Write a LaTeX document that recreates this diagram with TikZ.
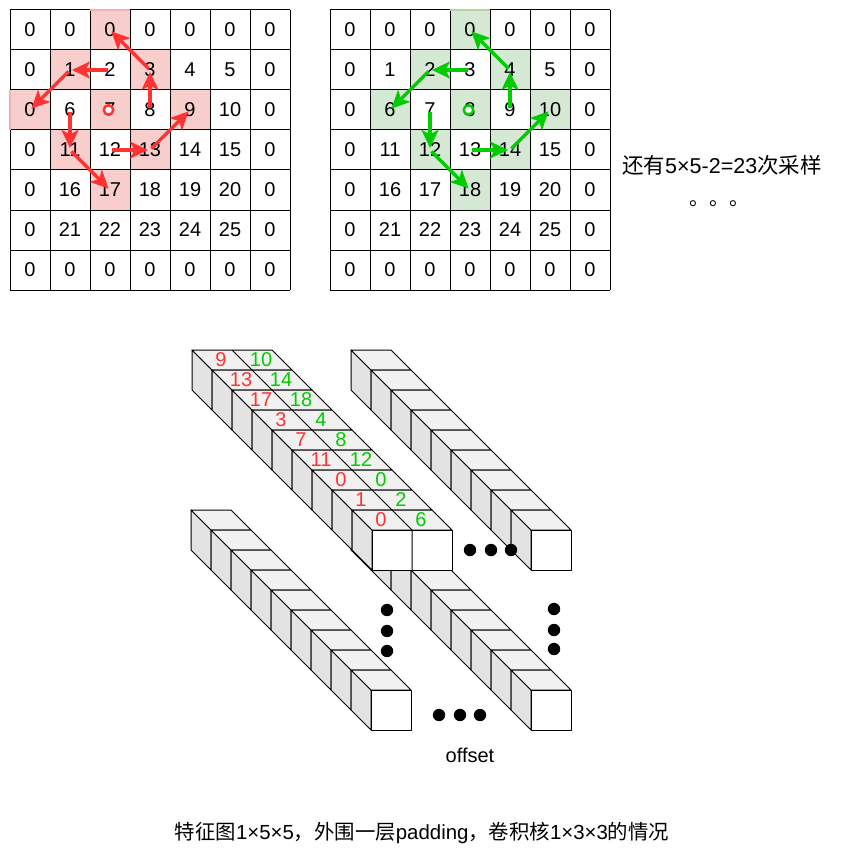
\documentclass[tikz,border=0pt]{standalone}
\usepackage{fontspec}
\setmainfont{Liberation Sans}
\newfontfamily\cjk{Noto Sans CJK SC}
\usetikzlibrary{arrows.meta}
\definecolor{redA}{HTML}{FF3333}
\definecolor{greenA}{HTML}{00CC00}
\definecolor{pinkF}{HTML}{F8CECC}
\definecolor{pinkE}{HTML}{EDB3B1}
\definecolor{greenF}{HTML}{D5E8D4}
\definecolor{greenE}{HTML}{B3D3A6}
\definecolor{topF}{HTML}{F1F1F1}
\definecolor{sideF}{HTML}{E3E3E3}
\begin{document}
\begin{tikzpicture}[x=1pt,y=-1pt,line join=round,
  txt/.style={font=\fontsize{20}{24}\selectfont, inner sep=0pt},
  gridline/.style={draw=black, line width=1pt},
  redarrow/.style={draw=redA, line width=3.4pt, shorten <=2pt, shorten >=2pt, -{Stealth[length=18pt,width=17pt,inset=4.5pt]}},
  greenarrow/.style={draw=greenA, line width=3.4pt, shorten <=2pt, shorten >=2pt, -{Stealth[length=18pt,width=17pt,inset=4.5pt]}},
  ring/.style={circle, line width=2.5pt, fill=white, minimum size=9.5pt, inner sep=0pt},
  sideface/.style={fill=sideF, draw=black, line width=1pt},
  topface/.style={fill=topF, draw=black, line width=1pt},
  frontface/.style={fill=white, draw=black, line width=1pt},
  bigdot/.style={fill=black}]
\useasboundingbox (0,0) rectangle (848,861);
\fill[white] (0,0) rectangle (848,861);

% ---------- highlighted cells ----------
\foreach \r/\c in {0/2,1/1,1/3,2/0,2/2,2/4,3/1,3/3,4/2}{
  \fill[pinkF] (10+40*\c,10+40*\r) rectangle ++(40,40);
  \fill[greenF] (370+40*\c,10+40*\r) rectangle ++(40,40);
}
% ---------- grid lines ----------
\foreach \ox in {10,330}{
  \foreach \i in {0,...,7}{
    \draw[gridline] (\ox+40*\i,10) -- (\ox+40*\i,290);
    \draw[gridline] (\ox,10+40*\i) -- (\ox+280,10+40*\i);
  }
}
\draw[pinkE, line width=1.2pt] (90,10) -- (130,10);
\draw[pinkE, line width=1.2pt] (10,90) -- (10,130);
\draw[greenE, line width=1.2pt] (450,10) -- (490,10);

% ---------- numbers ----------
\foreach \g/\ox in {a/10,b/330}{
  \foreach \r in {0,...,6}{
    \foreach \c in {0,...,6}{
      \pgfmathtruncatemacro\v{(\r>0)*(\r<6)*(\c>0)*(\c<6)*(5*(\r-1)+\c)}
      \node[txt] (\g-\r-\c) at (\ox+20+40*\c,30+40*\r) {\v};
    }
  }
}

% ---------- arrows grid a ----------
\draw[redarrow] (a-1-2.center) -- (a-1-1.center);
\draw[redarrow] (a-1-1.center) -- (a-2-0.center);
\draw[redarrow] (a-1-3.center) -- (a-0-2.center);
\draw[redarrow] (a-2-3.center) -- (a-1-3.center);
\draw[redarrow] (a-2-1.center) -- (a-3-1.center);
\draw[redarrow] (a-3-1.center) -- (a-4-2.center);
\draw[redarrow] (a-3-2.center) -- (a-3-3.center);
\draw[redarrow] (a-3-3.center) -- (a-2-4.center);
\node[ring, draw=redA] (ringa) at (108.5,110) {};

% ---------- arrows grid b ----------
\draw[greenarrow] (b-1-3.center) -- (b-1-2.center);
\draw[greenarrow] (b-1-2.center) -- (b-2-1.center);
\draw[greenarrow] (b-1-4.center) -- (b-0-3.center);
\draw[greenarrow] (b-2-4.center) -- (b-1-4.center);
\draw[greenarrow] (b-2-2.center) -- (b-3-2.center);
\draw[greenarrow] (b-3-2.center) -- (b-4-3.center);
\draw[greenarrow] (b-3-3.center) -- (b-3-4.center);
\draw[greenarrow] (b-3-4.center) -- (b-2-5.center);
\node[ring, draw=greenA] (ringb) at (468.5,110) {};

% ---------- side note ----------
\node[txt, font=\fontsize{21.5}{26}\selectfont] (note) at (722,165) {{\cjk 还有}5×5-2=23{\cjk 次采样}};
\node[txt, anchor=base] (etc) at (719,205) {\cjk 。。。};

% ---------- cube stacks ----------
\newcommand\mystack[3]{%
  \foreach \k in {0,...,8}{
    \pgfmathsetmacro\X{#1+20*\k}
    \pgfmathsetmacro\Y{#2+20*\k}
    \filldraw[sideface] (\X,\Y) -- ++(20,20) -- ++(0,40) -- ++(-20,-20) -- cycle;
    \filldraw[topface] (\X,\Y) -- ++(#3,0) -- ++(20,20) -- ++(-#3,0) -- cycle;
    \filldraw[frontface] (\X+20,\Y+20) rectangle ++(#3,40);
    \ifnum#3>40
      \draw[line width=1pt] (\X+40,\Y) -- ++(20,20) -- ++(0,40);
    \fi
  }}
% lower right (behind)
\mystack{351}{510}{40}
% labelled stack
\mystack{192}{350}{80}
% upper right
\mystack{351}{350}{40}
% lower left
\mystack{191}{510}{40}

% labels on the labelled stack
\foreach \k/\rv/\gv in {0/9/10,1/13/14,2/17/18,3/3/4,4/7/8,5/11/12,6/0/0,7/1/2,8/0/6}{
  \node[txt, text=redA] (rl\k) at (221+20*\k,360+20*\k) {\rv};
  \node[txt, text=greenA] (gl\k) at (261+20*\k,360+20*\k) {\gv};
}

% ---------- dots ----------
\foreach \x/\y in {470/550,491/550,511/550,
                   387/610,387/631,387/651,
                   554/609,554/630,554/649,
                   439/715,460/715,480/715}{
  \fill[bigdot] (\x,\y) circle (6.2);
}

\node[txt] (offset) at (470,755) {offset};
\node[txt, font=\fontsize{20.4}{24}\selectfont] (caption) at (422,833) {{\cjk 特征图}1×5×5{\cjk ，外围一层}padding{\cjk ，卷积核}1×3×3{\cjk 的情况}};
\end{tikzpicture}
\end{document}
